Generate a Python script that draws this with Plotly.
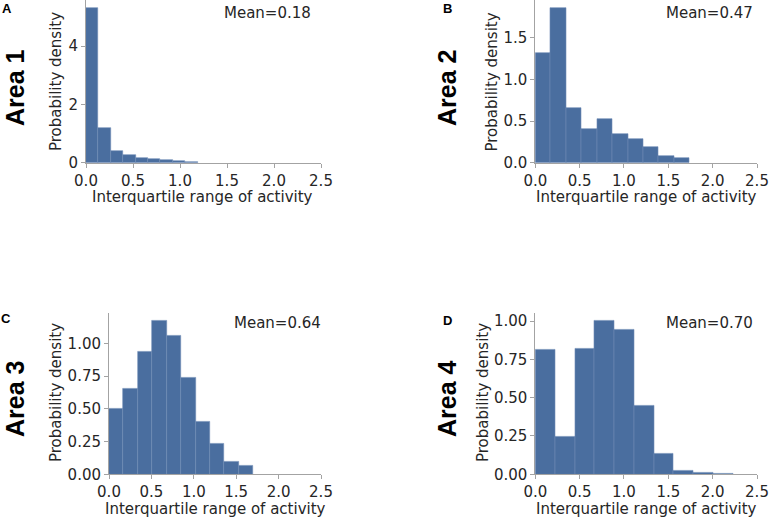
import plotly.graph_objects as go

# histogram data (probability density per bin)
areas = ["Area 1", "Area 2", "Area 3", "Area 4"]
letters = ["A", "B", "C", "D"]
means = ["Mean=0.18", "Mean=0.47", "Mean=0.64", "Mean=0.70"]
bin_widths = [0.132, 0.174, 0.170, 0.223]
density_1 = [5.32, 1.19, 0.41, 0.25, 0.17, 0.13, 0.09, 0.05, 0.02]
density_2 = [1.32, 1.86, 0.66, 0.41, 0.53, 0.35, 0.29, 0.19, 0.084, 0.053]
density_3 = [0.499, 0.651, 0.939, 1.176, 1.059, 0.735, 0.402, 0.237, 0.099, 0.066]
density_4 = [0.815, 0.243, 0.82, 1.004, 0.943, 0.446, 0.137, 0.024, 0.013, 0.0065]
densities = [density_1, density_2, density_3, density_4]
x_ticks = [0.0, 0.5, 1.0, 1.5, 2.0, 2.5]
y_ticks = [[0, 2, 4], [0.0, 0.5, 1.0, 1.5], [0.0, 0.25, 0.5, 0.75, 1.0], [0.0, 0.25, 0.5, 0.75, 1.0]]
y_fmt = ["d", ".1f", ".2f", ".2f"]

W, H = 770, 517
BAR = "#4a6e9f"
AX = "#a3a3a3"
TXT = "#262626"
FONT = "DejaVu Sans"


def px(x):
    return x / W


def py(y):
    return 1 - y / H


# plot boxes in pixels: (left, right, top, bottom)
boxes = [(86, 321, 0, 162.7), (535.3, 757, 0, 162.7),
         (109, 321, 312.7, 474.3), (535.3, 757, 312.7, 474.3)]

fig = go.Figure()
layout = {}
annotations = []

for i in range(4):
    n = "" if i == 0 else str(i + 1)
    w = bin_widths[i]
    d = densities[i]
    xs = [(k + 0.5) * w for k in range(len(d))]
    fig.add_trace(go.Bar(
        x=xs, y=d, width=[w] * len(d),
        marker=dict(color=BAR, line=dict(color="#6f8cb6", width=0.6)),
        xaxis="x" + n, yaxis="y" + n, showlegend=False,
    ))
    l, r, t, b = boxes[i]
    common = dict(showline=True, linecolor=AX, linewidth=1, ticks="outside",
                  ticklen=4, tickcolor=AX, showgrid=False, zeroline=False,
                  automargin=False,
                  tickfont=dict(family=FONT, size=15, color=TXT))
    layout["xaxis" + n] = dict(domain=[px(l), px(r)], anchor="y" + n,
                               range=[0, 2.5], tickvals=x_ticks, tickformat=".1f", **common)
    layout["yaxis" + n] = dict(domain=[py(b), py(t)], anchor="x" + n,
                               range=[0, max(d) * 1.05], tickvals=y_ticks[i],
                               tickformat=y_fmt[i], **common)

# text positions in pixels (centres)
area_pos = [(15, 88), (447, 88), (15, 399), (447, 399)]
letter_pos = [(7, 8), (447, 8), (6, 318), (447, 320)]
mean_pos = [(313, 12.5), (755, 12.5), (323, 322.7), (755, 323.3)]
ylab_pos = [(56, 82), (491.5, 82), (56, 393), (483, 393)]
xlab_pos = [(203, 197.5), (646, 197.5), (215, 508.5), (646, 508.5)]


def note(pos, text, size, family, color, angle=0, xanchor="center"):
    return dict(x=px(pos[0]), y=py(pos[1]), text=text, textangle=angle,
                xanchor=xanchor, yanchor="middle", showarrow=False,
                xref="paper", yref="paper",
                font=dict(family=family, size=size, color=color))


for i in range(4):
    annotations.append(note(area_pos[i], "<b>%s</b>" % areas[i], 25, "Liberation Sans", "black", -90))
    annotations.append(note(letter_pos[i], "<b>%s</b>" % letters[i], 13, "Liberation Sans", "black"))
    annotations.append(note(mean_pos[i], means[i], 15, FONT, TXT, xanchor="right"))
    annotations.append(note(ylab_pos[i], "Probability density", 15, FONT, TXT, -90))
    annotations.append(note(xlab_pos[i], "Interquartile range of activity", 15, FONT, TXT))

fig.update_layout(
    width=W, height=H, margin=dict(l=0, r=0, t=0, b=0),
    paper_bgcolor="white", plot_bgcolor="white", bargap=0,
    annotations=annotations, **layout,
)

# page body has a default 8px margin; drop it so the figure fills the window
fig.write_html("out.html", config={"displayModeBar": False},
               post_script="document.body.style.margin='0';")
